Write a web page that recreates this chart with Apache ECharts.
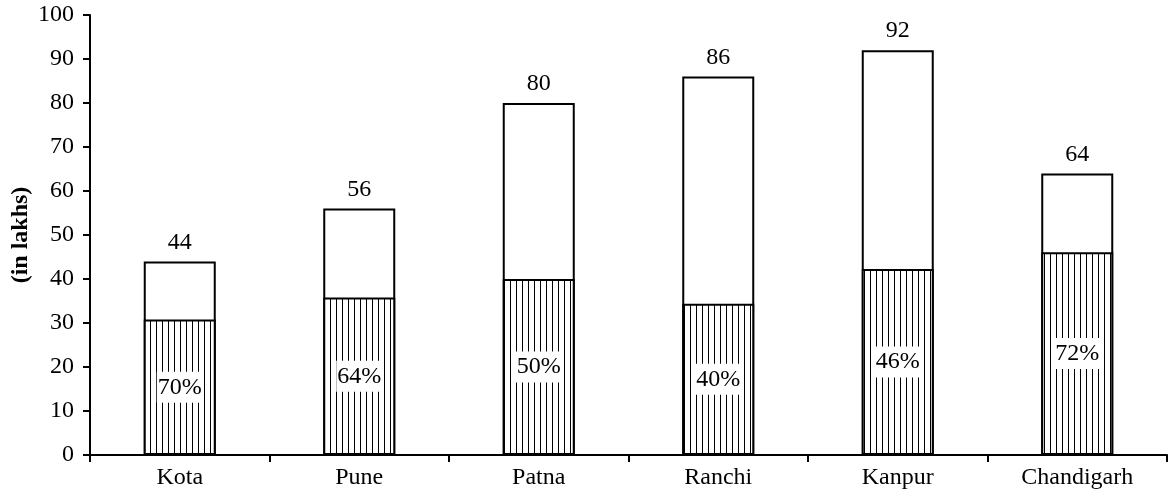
<!DOCTYPE html>
<html>
<head>
<meta charset="utf-8">
<script src="https://cdn.jsdelivr.net/npm/echarts@6/dist/echarts.min.js"></script>
<style>
html,body{margin:0;padding:0;background:#fff;}
#chart{width:1168px;height:500px;}
</style>
</head>
<body>
<div id="chart"></div>
<script>
const categories = ['Kota', 'Pune', 'Patna', 'Ranchi', 'Kanpur', 'Chandigarh'];
const totals = [44, 56, 80, 86, 92, 64];
const lowerValues = [30.8, 35.8, 40, 34.4, 42.3, 46.1];
const shareLabels = ['70%', '64%', '50%', '40%', '46%', '72%'];
const yTicks = [0, 10, 20, 30, 40, 50, 60, 70, 80, 90, 100];

const FONT = '"Liberation Serif", "Times New Roman", serif';

// vertical hatch pattern
const pc = document.createElement('canvas');
pc.width = 6; pc.height = 4;
const pctx = pc.getContext('2d');
pctx.fillStyle = '#fff';
pctx.fillRect(0, 0, 6, 4);
pctx.fillStyle = '#000';
pctx.fillRect(0, 0, 1, 4);

const chart = echarts.init(document.getElementById('chart'), null, {renderer: 'canvas'});
chart.setOption({
  animation: false,
  backgroundColor: '#fff',
  grid: {left: 90, right: 1, top: 15, bottom: 45, containLabel: false, outerBoundsMode: 'none'},
  xAxis: {
    type: 'category',
    data: categories,
    axisLine: {lineStyle: {color: '#000', width: 2}},
    axisTick: {show: true, length: 7, lineStyle: {color: '#000', width: 2}},
    axisLabel: {color: '#000', fontFamily: FONT, fontSize: 24, margin: 11}
  },
  yAxis: {
    type: 'value',
    min: yTicks[0],
    max: yTicks[yTicks.length - 1],
    interval: yTicks[1] - yTicks[0],
    name: '(in lakhs)',
    nameLocation: 'middle',
    nameGap: 57,
    nameMoveOverlap: false,
    nameTextStyle: {color: '#000', fontFamily: FONT, fontSize: 24, fontWeight: 'bold'},
    axisLine: {show: true, lineStyle: {color: '#000', width: 2}},
    axisTick: {show: true, length: 7, lineStyle: {color: '#000', width: 2}},
    splitLine: {show: false},
    axisLabel: {color: '#000', fontFamily: FONT, fontSize: 24, margin: 16}
  },
  series: [
    {
      type: 'bar',
      data: totals,
      barWidth: 72,
      barGap: '-100%',
      itemStyle: {color: '#fff', borderColor: '#000', borderWidth: 2},
      label: {show: true, position: 'top', distance: 7, color: '#000', fontFamily: FONT, fontSize: 24},
      z: 1
    },
    {
      type: 'bar',
      data: lowerValues,
      barWidth: 72,
      itemStyle: {color: {image: pc, repeat: 'repeat'}, borderColor: '#000', borderWidth: 2},
      label: {
        show: true, position: 'inside', color: '#000', fontFamily: FONT, fontSize: 24,
        backgroundColor: '#fff', padding: [4, 1, 3, 1],
        formatter: p => shareLabels[p.dataIndex]
      },
      z: 2
    }
  ]
});
</script>
</body>
</html>
